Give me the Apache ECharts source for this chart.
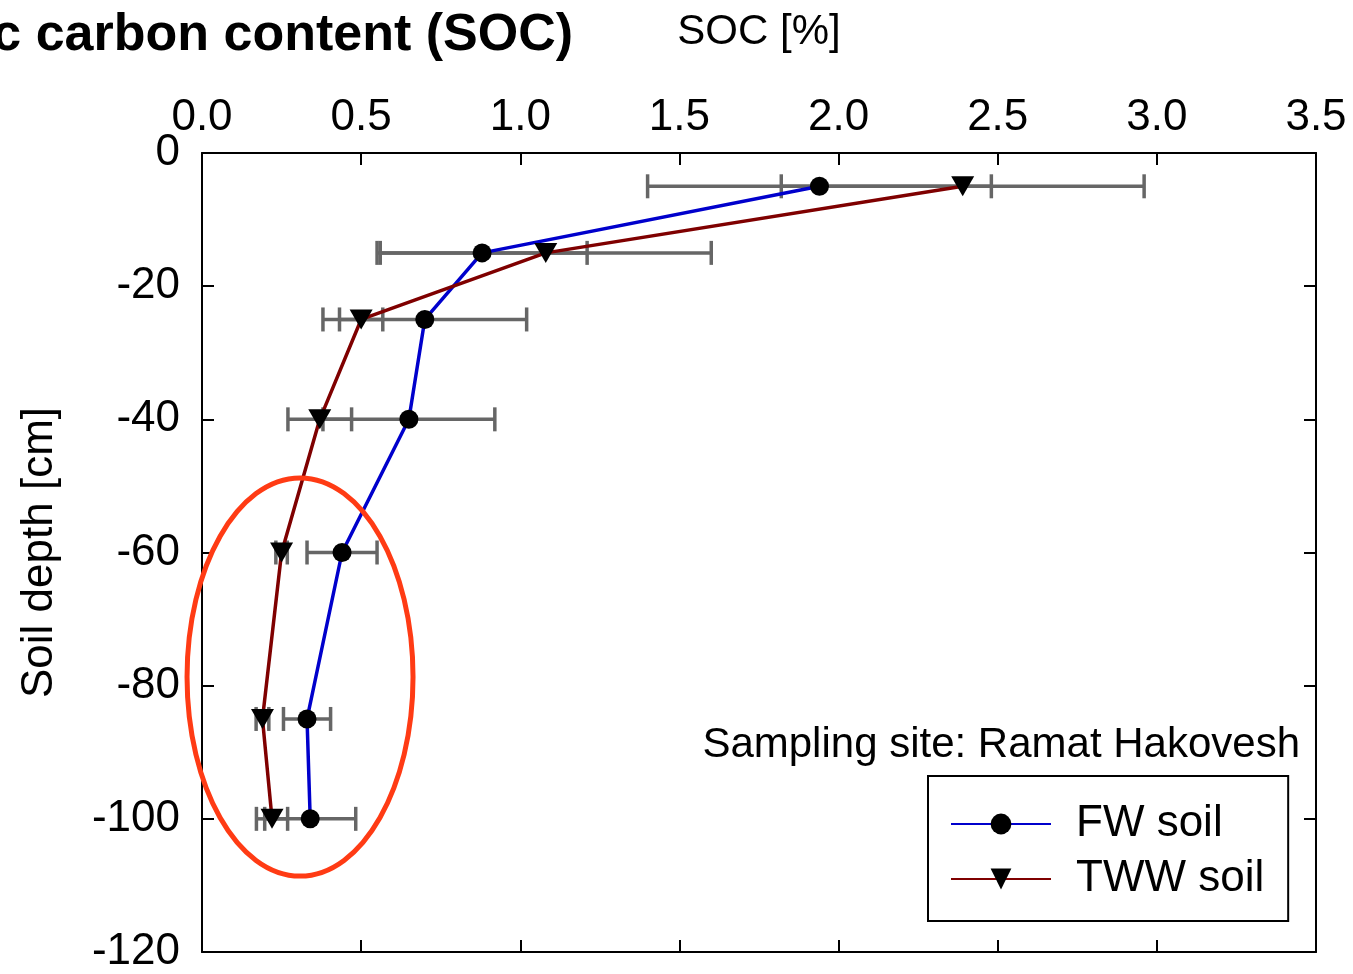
<!DOCTYPE html>
<html>
<head>
<meta charset="utf-8">
<script src="https://cdn.jsdelivr.net/npm/echarts@6/dist/echarts.min.js"></script>
<style>
  html, body { margin: 0; padding: 0; background: #fff; }
  #chart { width: 1353px; height: 974px; }
</style>
</head>
<body>
<div id="chart"></div>
<script>
// Sampling depths (cm, negative = below surface)
const depths = [-5, -15, -25, -40, -60, -85, -100];
// Soil organic carbon [%] and its standard deviation, fresh-water irrigated soil
const fwSoc = [1.94, 0.88, 0.70, 0.65, 0.44, 0.33, 0.34];
const fwErr = [0.54, 0.33, 0.32, 0.27, 0.11, 0.074, 0.143];
// Soil organic carbon [%] and its standard deviation, treated-wastewater irrigated soil
const twwSoc = [2.39, 1.08, 0.50, 0.37, 0.25, 0.19, 0.22];
const twwErr = [0.57, 0.52, 0.068, 0.10, 0.018, 0.02, 0.049];
// Highlight ring around the deep layers: centre SOC, centre depth, half-width (SOC), half-height (cm)
const highlight = [0.308, -78.7, 0.355, 29.9];

const FONT = 'Liberation Sans, Arial, Helvetica, sans-serif';

function errorBar(params, api) {
  const x = api.value(0), y = api.value(1), e = api.value(2);
  const lo = api.coord([x - e, y]);
  const hi = api.coord([x + e, y]);
  const cap = 12;
  const style = { stroke: '#666666', lineWidth: 3.5, fill: null };
  return {
    type: 'group',
    children: [
      { type: 'line', shape: { x1: lo[0], y1: lo[1], x2: hi[0], y2: hi[1] }, style },
      { type: 'line', shape: { x1: lo[0], y1: lo[1] - cap, x2: lo[0], y2: lo[1] + cap }, style },
      { type: 'line', shape: { x1: hi[0], y1: hi[1] - cap, x2: hi[0], y2: hi[1] + cap }, style }
    ]
  };
}

function ring(params, api) {
  const c = api.coord([api.value(0), api.value(1)]);
  const s = api.size([api.value(2), api.value(3)]);
  return {
    type: 'ellipse',
    shape: { cx: c[0], cy: c[1], rx: s[0], ry: s[1] },
    style: { stroke: '#ff3b14', lineWidth: 5, fill: null }
  };
}

const axisLine = { onZero: false, lineStyle: { color: '#000', width: 2 } };
const axisTick = { inside: true, length: 12, lineStyle: { color: '#000', width: 2 } };

const chart = echarts.init(document.getElementById('chart'));
chart.setOption({
  animation: false,
  backgroundColor: '#fff',
  textStyle: { fontFamily: FONT },
  title: {
    text: 'Soil organic carbon content (SOC)',
    right: 775,
    top: 5,
    textStyle: { fontSize: 52, fontWeight: 'bold', color: '#000', fontFamily: FONT }
  },
  grid: { left: 202, right: 37, top: 153, bottom: 19, containLabel: false },
  xAxis: [
    {
      type: 'value', position: 'top', min: 0, max: 3.5, interval: 0.5,
      name: 'SOC [%]', nameLocation: 'middle', nameGap: 100,
      nameTextStyle: { fontSize: 42, color: '#000', fontFamily: FONT },
      axisLine, axisTick,
      axisLabel: { fontSize: 44, color: '#000', margin: 13, fontFamily: FONT,
                   formatter: v => v.toFixed(1) },
      splitLine: { show: false }
    },
    {
      type: 'value', position: 'bottom', min: 0, max: 3.5, interval: 0.5,
      axisLine, axisTick, axisLabel: { show: false }, splitLine: { show: false }
    }
  ],
  yAxis: [
    {
      type: 'value', position: 'left', min: -120, max: 0, interval: 20,
      name: 'Soil depth [cm]', nameLocation: 'middle', nameGap: 140,
      nameTextStyle: { fontSize: 44, color: '#000', fontFamily: FONT },
      axisLine, axisTick,
      axisLabel: { fontSize: 44, color: '#000', margin: 22, fontFamily: FONT },
      splitLine: { show: false }
    },
    {
      type: 'value', position: 'right', min: -120, max: 0, interval: 20,
      axisLine, axisTick, axisLabel: { show: false }, splitLine: { show: false }
    }
  ],
  legend: {
    orient: 'vertical',
    left: 928, top: 776,
    itemWidth: 100, itemHeight: 26, itemGap: 11,
    padding: [26, 24, 20, 22],
    borderColor: '#000', borderWidth: 2, backgroundColor: '#fff',
    textStyle: { fontSize: 44, color: '#000', fontFamily: FONT, lineHeight: 44,
                 padding: [0, 0, 0, 20] },
    data: ['FW soil', 'TWW soil']
  },
  graphic: [
    {
      type: 'text', right: 53, top: 724,
      style: { text: 'Sampling site: Ramat Hakovesh', font: '42px ' + FONT, fill: '#000' }
    }
  ],
  series: [
    {
      name: 'FW error', type: 'custom', renderItem: errorBar, z: 1,
      encode: { x: 0, y: 1 },
      data: depths.map((d, i) => [fwSoc[i], d, fwErr[i]])
    },
    {
      name: 'TWW error', type: 'custom', renderItem: errorBar, z: 1,
      encode: { x: 0, y: 1 },
      data: depths.map((d, i) => [twwSoc[i], d, twwErr[i]])
    },
    {
      name: 'FW soil', type: 'line', z: 3,
      symbol: 'circle', symbolSize: 19,
      itemStyle: { color: '#000' },
      lineStyle: { color: '#0000cc', width: 3.5 },
      data: depths.map((d, i) => [fwSoc[i], d])
    },
    {
      name: 'TWW soil', type: 'line', z: 3,
      symbol: 'triangle', symbolRotate: 180, symbolSize: [23, 20],
      itemStyle: { color: '#000' },
      lineStyle: { color: '#7f0000', width: 3.5 },
      data: depths.map((d, i) => [twwSoc[i], d])
    },
    {
      name: 'highlight', type: 'custom', renderItem: ring, z: 4,
      encode: { x: 0, y: 1 },
      data: [highlight]
    }
  ]
});
</script>
</body>
</html>
